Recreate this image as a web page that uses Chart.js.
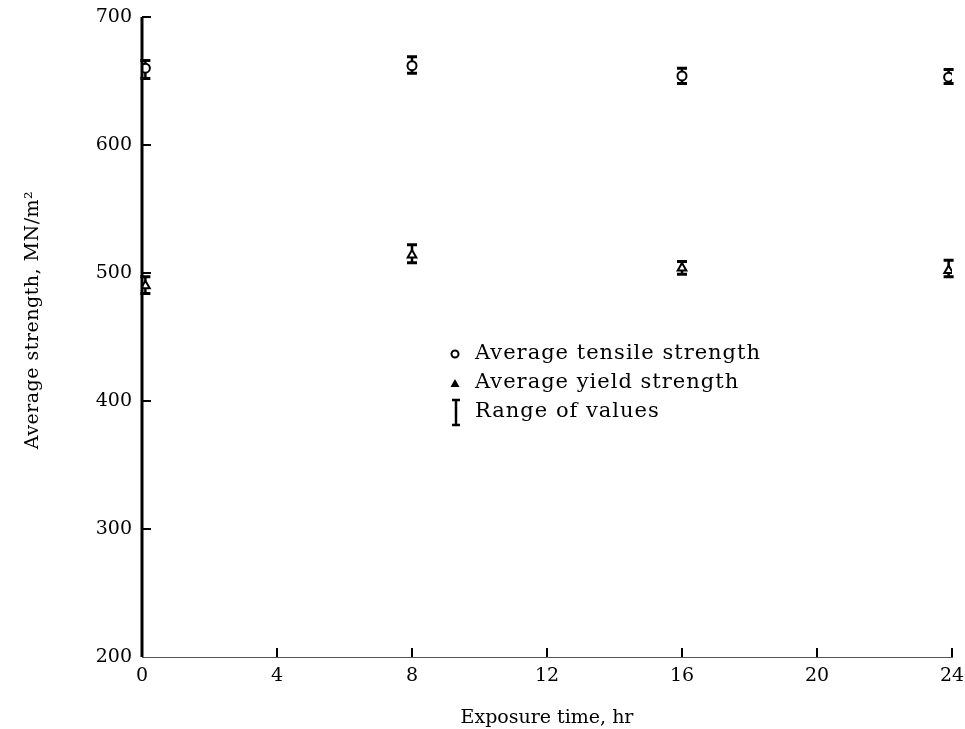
<!DOCTYPE html>
<html>
<head>
<meta charset="utf-8">
<script src="https://cdn.jsdelivr.net/npm/chart.js@4.4.1/dist/chart.umd.min.js"></script>
<style>
  html, body { margin: 0; padding: 0; background: #fff; }
  #wrap { width: 965px; height: 729px; position: relative; }
</style>
</head>
<body>
<div id="wrap"><canvas id="strengthChart"></canvas></div>
<script>
// Dữ liệu
const hours = [0.1, 8, 16, 23.9];
const tensile = [660, 662, 654, 653];
const tensileLow = [652, 656, 648, 648];
const tensileHigh = [666, 669, 660, 659];
const yieldStr = [490, 514, 504, 502];
const yieldLow = [484, 508, 499, 497];
const yieldHigh = [497, 522, 509, 510];
const xTicks = [0, 4, 8, 12, 16, 20, 24];
const yTicks = [200, 300, 400, 500, 600, 700];

const FONT = '"DejaVu Serif", serif';

// Thanh sai số (range of values)
const errorBars = {
    id: 'errorBars',
    beforeDatasetsDraw(chart) {
        const { ctx, scales: { x, y } } = chart;
        ctx.save();
        ctx.strokeStyle = '#000';
        const draw = (xs, lo, hi) => {
            xs.forEach((h, i) => {
                const px = x.getPixelForValue(h);
                const top = y.getPixelForValue(hi[i]);
                const bot = y.getPixelForValue(lo[i]);
                ctx.lineWidth = 2.5;
                ctx.beginPath();
                ctx.moveTo(px, top); ctx.lineTo(px, bot);
                ctx.stroke();
                ctx.lineWidth = 3;
                ctx.beginPath();
                ctx.moveTo(px - 5, top); ctx.lineTo(px + 5, top);
                ctx.moveTo(px - 5, bot); ctx.lineTo(px + 5, bot);
                ctx.stroke();
            });
        };
        draw(hours, tensileLow, tensileHigh);
        draw(hours, yieldLow, yieldHigh);
        ctx.restore();
    }
};

// Vạch chia hướng vào trong, chú thích, tiêu đề trục y
const axisDecor = {
    id: 'axisDecor',
    afterDraw(chart) {
        const { ctx, chartArea, scales: { x, y } } = chart;
        ctx.save();
        ctx.strokeStyle = '#000';
        ctx.lineWidth = 2;
        xTicks.forEach(t => {
            if (t === 0) return;
            const px = x.getPixelForValue(t);
            ctx.beginPath();
            ctx.moveTo(px, chartArea.bottom);
            ctx.lineTo(px, chartArea.bottom - 9);
            ctx.stroke();
        });
        yTicks.forEach(t => {
            if (t === 200) return;
            const py = y.getPixelForValue(t);
            ctx.beginPath();
            ctx.moveTo(chartArea.left, py);
            ctx.lineTo(chartArea.left + 9, py);
            ctx.stroke();
        });
        // trục y đậm
        ctx.lineWidth = 3;
        ctx.beginPath();
        ctx.moveTo(chartArea.left, chartArea.top);
        ctx.lineTo(chartArea.left, chartArea.bottom);
        ctx.stroke();

        // chú thích
        ctx.fillStyle = '#000';
        ctx.font = '21px ' + FONT;
        ctx.letterSpacing = '1px';
        ctx.textBaseline = 'middle';
        ctx.lineWidth = 2;
        ctx.beginPath();
        ctx.arc(455, 354, 3.5, 0, Math.PI * 2);
        ctx.stroke();
        ctx.fillText('Average tensile strength', 475, 354);
        ctx.beginPath();
        ctx.moveTo(455, 379); ctx.lineTo(459.5, 387); ctx.lineTo(450.5, 387); ctx.closePath();
        ctx.fill();
        ctx.fillText('Average yield strength', 475, 383);
        ctx.lineWidth = 2.5;
        ctx.beginPath();
        ctx.moveTo(456, 400); ctx.lineTo(456, 425);
        ctx.moveTo(452, 400); ctx.lineTo(460, 400);
        ctx.moveTo(452, 425); ctx.lineTo(460, 425);
        ctx.stroke();
        ctx.fillText('Range of values', 475, 412);

        // tiêu đề trục y
        ctx.letterSpacing = '0.5px';
        ctx.translate(33, 320);
        ctx.rotate(-Math.PI / 2);
        ctx.textAlign = 'center';
        ctx.font = '19px ' + FONT;
        ctx.fillText('Average strength, MN/m\u00B2', 0, 0);
        ctx.restore();
    }
};

const ctx = document.getElementById('strengthChart');
new Chart(ctx, {
    type: 'scatter',
    data: {
        datasets: [{
            label: 'Average tensile strength',
            data: hours.map((h, i) => ({ x: h, y: tensile[i] })),
            pointStyle: 'circle',
            pointRadius: 4.5,
            borderColor: '#000',
            backgroundColor: '#fff',
            borderWidth: 2
        }, {
            label: 'Average yield strength',
            data: hours.map((h, i) => ({ x: h, y: yieldStr[i] })),
            pointStyle: 'triangle',
            pointRadius: 5,
            borderColor: '#000',
            backgroundColor: '#fff',
            borderWidth: 2
        }]
    },
    options: {
        responsive: true,
        maintainAspectRatio: false,
        animation: false,
        layout: { padding: { left: 0, right: 13, top: 17, bottom: 0 } },
        plugins: {
            legend: { display: false },
            tooltip: { enabled: false }
        },
        scales: {
            x: {
                type: 'linear',
                min: 0,
                max: 24,
                afterBuildTicks: s => { s.ticks = xTicks.map(v => ({ value: v })); },
                afterFit: s => { s.height = 72; },
                grid: { display: false },
                border: { display: true, color: '#555', width: 1 },
                ticks: { color: '#000', font: { family: FONT, size: 19 }, padding: 0 },
                title: {
                    display: true,
                    text: 'Exposure time, hr',
                    color: '#000',
                    font: { family: FONT, size: 19 },
                    padding: { top: 14, bottom: 0 }
                }
            },
            y: {
                min: 200,
                max: 700,
                afterBuildTicks: s => { s.ticks = yTicks.map(v => ({ value: v })); },
                afterFit: s => { s.width = 142; },
                grid: { display: false },
                border: { display: false },
                ticks: { color: '#000', font: { family: FONT, size: 19 }, padding: 2 }
            }
        }
    },
    plugins: [errorBars, axisDecor]
});
</script>
</body>
</html>
